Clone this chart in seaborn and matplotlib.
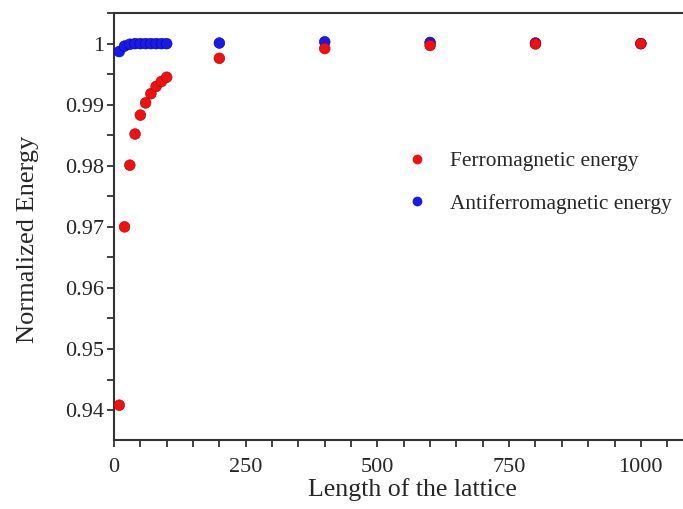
import pandas as pd
import seaborn as sns
import matplotlib.pyplot as plt
from matplotlib.ticker import MultipleLocator, FuncFormatter

# lattice lengths and normalized energies
lattice=[10,20,30,40,50,60,70,80,90,100,200,400,600,800,1000]
ferro=[0.9408,0.9700,0.9801,0.9852,0.9883,0.9903,0.9918,0.9930,0.9938,0.9945,0.9976,0.9992,0.9997,0.99995,1.0000]
antiferro=[0.9987,0.9996,0.9999,1.0,1.0,1.0,1.0,1.0,1.0,1.0,1.0001,1.0003,1.0002,1.0001,1.0]

labels=["Ferromagnetic energy","Antiferromagnetic energy"]
colors={"Ferromagnetic energy":"#f01010","Antiferromagnetic energy":"#1a1ae6"}

df_f=pd.DataFrame({"L":lattice,"E":ferro,"kind":labels[0]})
df_a=pd.DataFrame({"L":lattice,"E":antiferro,"kind":labels[1]})

sns.set_style("ticks")
plt.rcParams['font.family']=['Liberation Serif','DejaVu Serif']

fig=plt.figure(figsize=(6.83,5.09),dpi=100)
ax=fig.add_axes([114/683,69/509,1-114/683,(440-12.5)/509])

# antiferro first so ferro sits on top where they overlap
sns.scatterplot(data=df_a,x="L",y="E",hue="kind",palette=colors,s=60,edgecolor="#0000b0",linewidth=0.4,ax=ax,legend=False,zorder=3)
sns.scatterplot(data=df_f,x="L",y="E",hue="kind",palette=colors,s=60,edgecolor="#b00000",linewidth=0.4,ax=ax,legend=False,zorder=4)

ax.set(xlim=(0,1080),ylim=(0.9351,1.0051))
ax.set_xlabel("Length of the lattice",fontsize=18.6)
ax.set_ylabel("Normalized Energy",fontsize=19)
ax.xaxis.set_label_coords(0.524,-0.09)
ax.yaxis.set_label_coords(-0.131,0.47)

ax.xaxis.set_major_locator(MultipleLocator(250))
ax.xaxis.set_minor_locator(MultipleLocator(50))
ax.yaxis.set_major_locator(MultipleLocator(0.01))
ax.yaxis.set_minor_locator(MultipleLocator(0.005))
ax.yaxis.set_major_formatter(FuncFormatter(lambda v,p: "1" if abs(v-1)<1e-9 else "%.2f"%v))
ax.tick_params(which="major",length=5,width=1.3,labelsize=16,direction="out",color="#333333")
ax.tick_params(which="minor",length=5,width=1.3,direction="out",color="#333333")
ax.tick_params(axis="x",pad=8)
ax.tick_params(axis="y",pad=2)

for side in ["left","bottom","top"]:
    ax.spines[side].set_linewidth(1.5)
    ax.spines[side].set_color("#333333")
ax.spines["right"].set_visible(False)

handles=[plt.Line2D([],[],marker="o",ls="",color=colors[k],markersize=6) for k in labels]
ax.legend(handles,labels,loc="upper left",bbox_to_anchor=(0.476,0.72),frameon=False,
          fontsize=15.4,handletextpad=0.95,labelspacing=1.05,handlelength=1.2)

fig.savefig("out.png",dpi=100)
